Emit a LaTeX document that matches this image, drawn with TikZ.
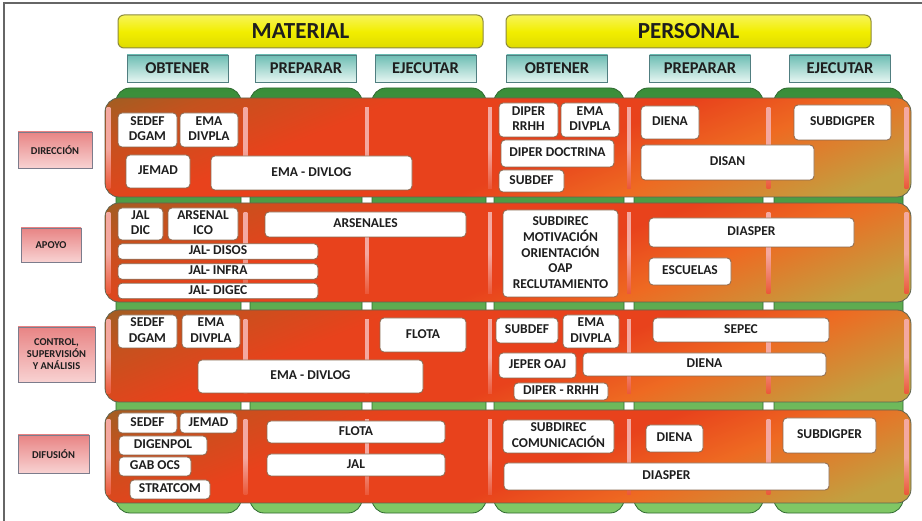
\documentclass[tikz,border=0pt]{standalone}
\usepackage{fontspec}
\setmainfont{Carlito}
\definecolor{ylw}{HTML}{F2EE00}
\definecolor{ylwb}{HTML}{8C8A3C}
\definecolor{tealA}{HTML}{6DBDB3}
\definecolor{tealB}{HTML}{E6F6F2}
\definecolor{tealD}{HTML}{507E80}
\definecolor{grnA}{HTML}{3A8E3A}
\definecolor{grnB}{HTML}{80C866}
\definecolor{grnD}{HTML}{2F6A30}
\definecolor{rowTL}{HTML}{8E6424}
\definecolor{rowT}{HTML}{C4521E}
\definecolor{rowM}{HTML}{E8421C}
\definecolor{rowO}{HTML}{EE6A22}
\definecolor{rowBR}{HTML}{C2A040}
\definecolor{rowD}{HTML}{5E6450}
\definecolor{stripe}{HTML}{F4A8A0}
\definecolor{lblA}{HTML}{E88484}
\definecolor{lblB}{HTML}{F8D2D2}
\definecolor{lblD}{HTML}{7C7C8C}
\definecolor{wbd}{HTML}{8A6A52}
\definecolor{txt}{HTML}{1E1E1E}
\pgfdeclareverticalshading{rowshade}{100bp}{color(0bp)=(rowBR); color(22bp)=(rowBR); color(36bp)=(rowO); color(46bp)=(rowM); color(64bp)=(rowM); color(76bp)=(rowT); color(86bp)=(rowTL); color(100bp)=(rowTL)}
\newcommand\sqt[1]{\begin{tabular}{@{}c@{}}#1\end{tabular}}
\newcommand\bx[6]{%
  \pgfmathsetmacro\bxw{#4-#2}\pgfmathsetmacro\bxh{#5-#3}%
  \node[wbox, minimum width=\bxw pt, minimum height=\bxh pt] (#1) at ({(#2+#4)/2},{(#3+#5)/2}) {\sqt{#6}};}
\begin{document}
\begin{tikzpicture}[x=1pt,y=-1pt,
  ybox/.style={draw=ylwb, line width=1pt, rounded corners=6pt, top color=ylw!65!white, bottom color=ylw!92!black, middle color=ylw,
     minimum width=365pt, minimum height=33pt, inner sep=0pt, text=txt, font=\fontsize{23}{24}\selectfont\bfseries},
  tbox/.style={draw=tealD, line width=0.9pt, top color=tealA, bottom color=tealB,
     minimum width=101pt, minimum height=27pt, inner sep=0pt, text=txt, font=\fontsize{16.5}{17}\selectfont\bfseries},
  gcol/.style={draw=grnD, line width=0.8pt, rounded corners=14pt, top color=grnA, bottom color=grnB},
  rowbox/.style={draw=rowD, line width=0.8pt, rounded corners=14pt, shading=rowshade, shading angle=22},
  strp/.style={top color=stripe, bottom color=rowM!80!stripe, middle color=stripe},
  lbox/.style={draw=lblD, line width=0.9pt, top color=lblA, bottom color=lblB, inner sep=0pt, text=txt,
     font=\fontsize{10.5}{12}\selectfont\bfseries},
  wbox/.style={draw=wbd, line width=0.8pt, fill=white, rounded corners=4pt, inner sep=0pt, text=txt,
     font=\fontsize{13.5}{15.5}\selectfont\bfseries},
]
\useasboundingbox (0,0) rectangle (922,521);
\fill[white] (0,0) rectangle (922,521);
\draw[gray!80!black, line width=1.3pt] (4,521) -- (4,3) -- (922,3);

% headers
\node[ybox] (mat) at (300.5,31.5) {MATERIAL};
\node[ybox] (pers) at (688.5,31.5) {PERSONAL};
\node[tbox] (mobt) at (177.5,68.5) {OBTENER};
\node[tbox] (mpre) at (306,68.5) {PREPARAR};
\node[tbox] (meje) at (425.5,68.5) {EJECUTAR};
\node[tbox] (pobt) at (557,68.5) {OBTENER};
\node[tbox] (ppre) at (700,68.5) {PREPARAR};
\node[tbox] (peje) at (840,68.5) {EJECUTAR};

% green columns
\foreach \a/\b in {116/241, 250/362, 372/486, 494/624, 634/763, 774/903}
  \path[gcol] (\a,88) rectangle (\b,513);

% rows
\foreach \t/\bb in {98/197, 203/302, 310/402, 410/503}{
  \path[rowbox] (105,\t) rectangle (911,\bb);
  \foreach \s in {108.5, 245.5, 367, 490, 629, 768.5, 906.5}
    \path[strp] (\s-1.8,\t+10) rectangle (\s+1.8,\bb-8);
}

% row labels
\node[lbox, minimum width=74pt, minimum height=36pt] (dir) at (55,150) {DIRECCIÓN};
\node[lbox, minimum width=60pt, minimum height=34pt] (apo) at (51,245) {APOYO};
\node[lbox, minimum width=77pt, minimum height=55pt, align=center] (con) at (56.5,354.5) {CONTROL,\\SUPERVISIÓN\\Y ANÁLISIS};
\node[lbox, minimum width=71pt, minimum height=38pt] (dif) at (53.5,454) {DIFUSIÓN};

% row 1
\bx{sedefA}{118}{113}{177}{147}{SEDEF\\DGAM}
\bx{emadivA}{180}{113}{238}{147}{EMA\\DIVPLA}
\bx{jemadA}{126}{155}{190}{188}{JEMAD}
\bx{divlogA}{211}{156}{412}{190}{EMA - DIVLOG}
\bx{diperA}{499}{103}{558}{137}{DIPER\\RRHH}
\bx{emadivAp}{561}{103}{619}{137}{EMA\\DIVPLA}
\bx{doctrina}{501}{140}{614}{167}{DIPER DOCTRINA}
\bx{subdefA}{499}{170}{564}{192}{SUBDEF}
\bx{dienaA}{641}{106}{699}{139}{DIENA}
\bx{disan}{641}{145}{814}{180}{DISAN}
\bx{subdigA}{794}{105}{891}{140}{SUBDIGPER}

% row 2
\bx{jaldic}{118}{208}{163}{240}{JAL\\DIC}
\bx{arsico}{168}{208}{238}{240}{ARSENAL\\ICO}
\bx{arsenales}{265}{212}{466}{237}{ARSENALES}
\bx{disos}{118}{245}{318}{258}{JAL- DISOS}
\bx{infra}{118}{265}{318}{278}{JAL- INFRA}
\bx{digec}{118}{284}{318}{298}{JAL- DIGEC}
\bx{motiv}{503}{210}{618}{297}{SUBDIREC\\MOTIVACIÓN\\ORIENTACIÓN\\OAP\\RECLUTAMIENTO}
\bx{diasperB}{649}{218}{854}{247}{DIASPER}
\bx{escuelas}{649}{258}{731}{285}{ESCUELAS}

% row 3
\bx{sedefC}{118}{315}{177}{348}{SEDEF\\DGAM}
\bx{emadivC}{182}{315}{240}{348}{EMA\\DIVPLA}
\bx{flotaC}{380}{318}{466}{352}{FLOTA}
\bx{divlogC}{198}{360}{423}{393}{EMA - DIVLOG}
\bx{subdefC}{496}{318}{558}{343}{SUBDEF}
\bx{emadivCp}{563}{315}{619}{348}{EMA\\DIVPLA}
\bx{sepec}{653}{318}{829}{342}{SEPEC}
\bx{jeper}{499}{353}{576}{378}{JEPER OAJ}
\bx{dienaC}{583}{353}{826}{376}{DIENA}
\bx{diperrh}{514}{383}{608}{400}{DIPER - RRHH}

% row 4
\bx{sedefD}{118}{413}{177}{433}{SEDEF}
\bx{jemadD}{180}{413}{237}{433}{JEMAD}
\bx{digenpol}{119}{436}{207}{455}{DIGENPOL}
\bx{gabocs}{119}{457}{191}{476}{GAB OCS}
\bx{stratcom}{130}{480}{210}{499}{STRATCOM}
\bx{flotaD}{267}{421}{445}{443}{FLOTA}
\bx{jalD}{267}{454}{445}{476}{JAL}
\bx{comun}{503}{420}{614}{453}{SUBDIREC\\COMUNICACIÓN}
\bx{dienaD}{646}{425}{703}{452}{DIENA}
\bx{subdigD}{783}{418}{876}{453}{SUBDIGPER}
\bx{diasperD}{504}{463}{829}{490}{DIASPER}
\end{tikzpicture}
\end{document}
